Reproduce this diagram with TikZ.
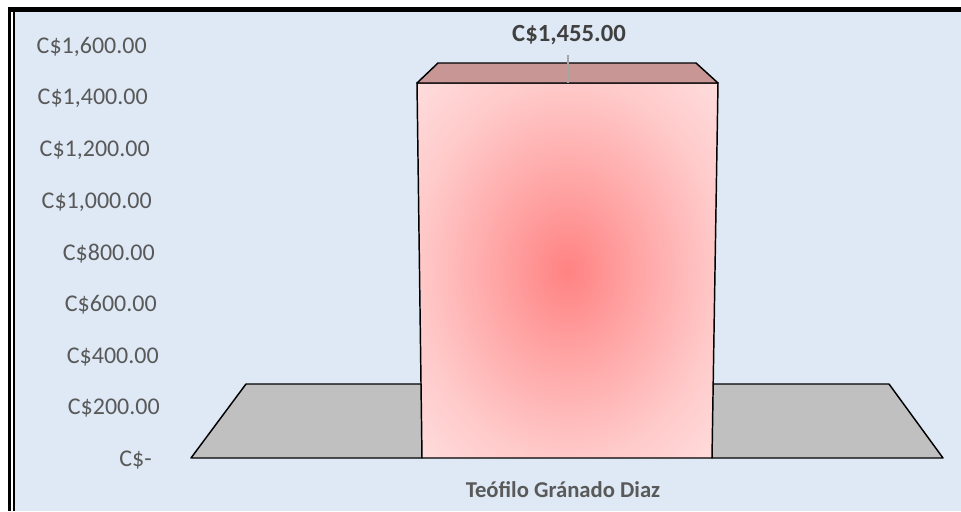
\documentclass[tikz,border=0pt]{standalone}
\usepackage{fontspec}
\setmainfont{Carlito}
\usetikzlibrary{calc}

\definecolor{chartbg}{RGB}{222,233,245}
\definecolor{axisgray}{RGB}{89,89,89}
\definecolor{labgray}{RGB}{64,64,64}
\definecolor{floorgray}{RGB}{192,192,192}
\definecolor{topface}{RGB}{201,150,150}

\pgfdeclareradialshading{barglow}{\pgfpoint{0bp}{0bp}}{rgb(0bp)=(1,0.51,0.51);
  rgb(12bp)=(1,0.65,0.65); rgb(25bp)=(1,0.79,0.79); rgb(36bp)=(1,0.87,0.87);
  rgb(50bp)=(1,0.89,0.89)}

\tikzset{
  tick/.style={anchor=east, text=axisgray, font=\fontsize{18}{20}\selectfont, inner sep=0pt},
  floor/.style={fill=floorgray, draw=black, line width=1.1pt, line join=round},
  edge/.style={draw=black, line width=1.1pt, line join=round},
  leader/.style={draw={rgb,255:red,166;green,166;blue,166}, line width=1.1pt}
}

\begin{document}
\begin{tikzpicture}[x=0.75pt,y=-0.75pt]
  \useasboundingbox (0,0) rectangle (961,511);
  \fill[white] (0,0) rectangle (961,511);
  \fill[chartbg] (15,12) rectangle (961,511);

  % frame
  \fill[black] (8,7) rectangle (961,12);
  \fill[black] (8,7) rectangle (11,511);
  \fill[black] (13,12) rectangle (15,511);

  % value axis
  \foreach \val/\xr/\txt in {0/152/{C\$-}, 200/160/{C\$200.00}, 400/159/{C\$400.00},
      600/157/{C\$600.00}, 800/155/{C\$800.00}, 1000/152/{C\$1,000.00},
      1200/150/{C\$1,200.00}, 1400/148/{C\$1,400.00}, 1600/147/{C\$1,600.00}}
    \node[tick] (tick\val) at (\xr,{460-0.2581*\val}) {\txt};

  % floor
  \coordinate (fl1) at (191,458);
  \coordinate (fl2) at (246,384);
  \coordinate (fl3) at (422,384);
  \coordinate (fl4) at (422,458);
  \coordinate (fr1) at (712,458);
  \coordinate (fr2) at (712,384);
  \coordinate (fr3) at (889,384);
  \coordinate (fr4) at (943,458);
  \path[floor] (fl1) -- (fl2) -- (fl3) -- (fl4) -- cycle;
  \path[floor] (fr1) -- (fr2) -- (fr3) -- (fr4) -- cycle;

  % bar
  \coordinate (b1) at (417,83);
  \coordinate (b2) at (718,83);
  \coordinate (b3) at (712,458);
  \coordinate (b4) at (422,458);
  \coordinate (t1) at (438,63);
  \coordinate (t2) at (696,63);
  \shade[shading=barglow] (b1) -- (b2) -- (b3) -- (b4) -- cycle;
  \path[edge] (b1) -- (b2) -- (b3) -- (b4) -- cycle;
  \path[edge, fill=topface] (b1) -- (t1) -- (t2) -- (b2) -- cycle;

  % data label
  \node[text=labgray, font=\bfseries\fontsize{18.5}{21}\selectfont] (vlab) at (569,35) {C\$1,455.00};
  \coordinate (leadtop) at (568,55);
  \coordinate (leadbot) at (568,83);
  \path[leader] (leadtop) -- (leadbot);

  % category
  \node[text=axisgray, font=\bfseries\fontsize{17}{19}\selectfont] (cat) at (563,490) {Teófilo Gránado Diaz};
\end{tikzpicture}
\end{document}
